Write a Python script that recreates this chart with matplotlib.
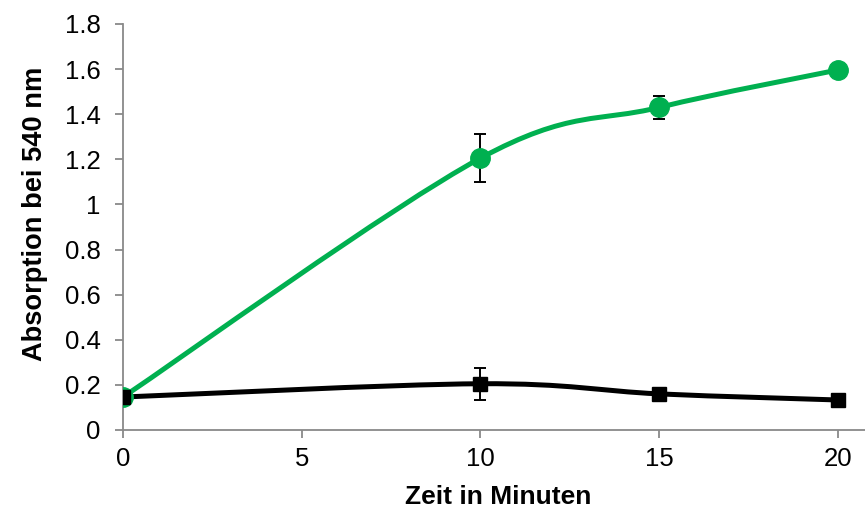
import matplotlib.pyplot as plt
import numpy as np
from matplotlib.path import Path
from matplotlib.patches import PathPatch

plt.rcParams['font.family'] = ['Liberation Sans', 'DejaVu Sans']

# data
minutes = [0, 10, 15, 20]
green_vals = [0.146, 1.205, 1.430, 1.596]
green_err = [0, 0.105, 0.05, 0]
black_vals = [0.146, 0.205, 0.160, 0.133]
black_err = [0, 0.07, 0, 0]

x_ticks = [0, 5, 10, 15, 20]
y_ticks = [0, 0.2, 0.4, 0.6, 0.8, 1, 1.2, 1.4, 1.6, 1.8]
y_labels = ["0", "0.2", "0.4", "0.6", "0.8", "1", "1.2", "1.4", "1.6", "1.8"]

GREEN = "#00B050"
SPINE = "#898989"


def smooth_path(xs, ys):
    # Excel-style smoothed line: cubic Bezier per segment, Catmull-Rom control points
    pts = np.column_stack([xs, ys]).astype(float)
    n = len(pts)
    verts = [pts[0]]
    codes = [Path.MOVETO]
    for i in range(n - 1):
        p0 = pts[max(i - 1, 0)]
        p1 = pts[i]
        p2 = pts[i + 1]
        p3 = pts[min(i + 2, n - 1)]
        c1 = p1 + (p2 - p0) / 6
        c2 = p2 - (p3 - p1) / 6
        verts += [c1, c2, p2]
        codes += [Path.CURVE4] * 3
    return Path(verts, codes)


fig = plt.figure(figsize=(8.65, 5.12), dpi=100)
ax = fig.add_axes([0.1422, 0.1602, 0.8578, 0.7930])

for vals, err, color, marker, ms in [
    (green_vals, green_err, GREEN, "o", 14),
    (black_vals, black_err, "black", "s", 10),
]:
    ax.add_patch(PathPatch(smooth_path(minutes, vals), facecolor="none",
                           edgecolor=color, lw=3.6, capstyle="round", zorder=2))
    idx = [i for i, e in enumerate(err) if e > 0]
    ax.errorbar([minutes[i] for i in idx], [vals[i] for i in idx],
                yerr=[err[i] for i in idx], fmt="none", ecolor="black",
                elinewidth=1.4, capsize=4.5, capthick=1.4, zorder=3)
    ax.plot(minutes, vals, linestyle="none", marker=marker, markersize=ms,
            color=color, zorder=4)

ax.set_xlim(0, 20.76)
ax.set_ylim(0, 1.8)
ax.set_xticks(x_ticks)
ax.set_yticks(y_ticks)
ax.set_yticklabels(y_labels)

for side in ["top", "right"]:
    ax.spines[side].set_visible(False)
for side in ["left", "bottom"]:
    ax.spines[side].set_color(SPINE)
    ax.spines[side].set_linewidth(1.3)
ax.tick_params(axis="both", direction="out", length=6, width=1.3,
               color=SPINE, labelsize=18.5)
ax.tick_params(axis="x", pad=6)
ax.tick_params(axis="y", pad=10)

fig.text(0.576, 0.016, "Zeit in Minuten", fontsize=19, fontweight="bold",
         ha="center", va="baseline")
fig.text(0.041, 0.582, "Absorption bei 540 nm", fontsize=19.6, fontweight="bold",
         ha="center", va="center", rotation=90)

fig.savefig("out.png", dpi=100)
